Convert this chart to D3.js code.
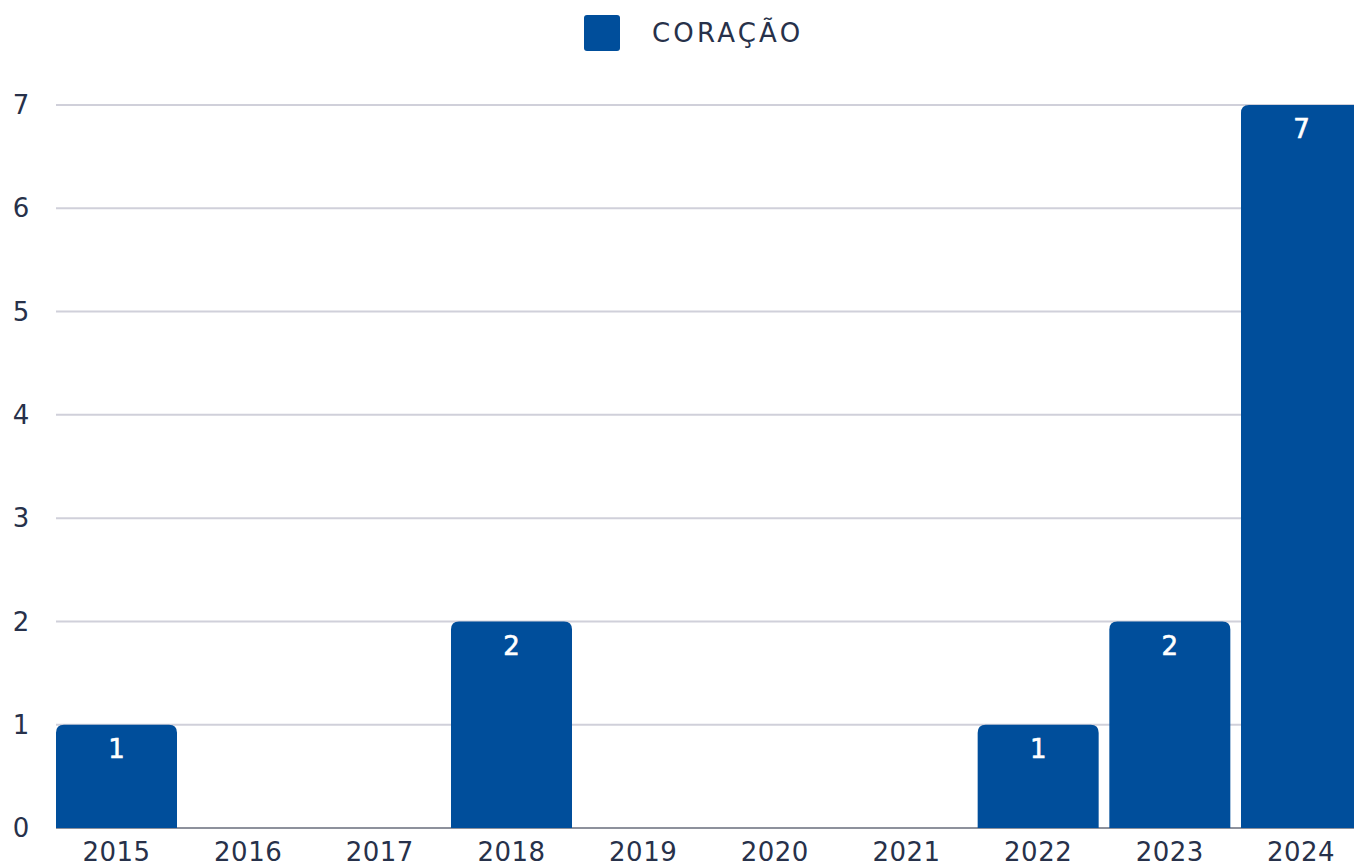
<!DOCTYPE html>
<html>
<head>
<meta charset="utf-8">
<script src="https://cdn.jsdelivr.net/npm/d3@7"></script>
<style>
  body { margin: 0; background: #fff; overflow: hidden; }
  text { font-family: "DejaVu Sans", "Noto Sans", sans-serif; fill: #27314a; }
</style>
</head>
<body>
<svg id="chart" width="1354" height="868"></svg>
<script>
var years = ["2015", "2016", "2017", "2018", "2019", "2020", "2021", "2022", "2023", "2024"];
var values = [1, 0, 0, 2, 0, 0, 0, 1, 2, 7];
var yTicks = [0, 1, 2, 3, 4, 5, 6, 7];
var seriesName = "CORAÇÃO";
var barColor = "#004e9b";

const svg = d3.select("#chart");

const x = d3.scaleBand()
  .domain(years)
  .range([56, 1362])
  .paddingInner(0.081)
  .paddingOuter(0);

const y = d3.scaleLinear()
  .domain([0, 7])
  .range([828, 105]);

// grid lines
svg.append("g")
  .selectAll("line")
  .data(yTicks)
  .enter()
  .append("line")
  .attr("x1", 56)
  .attr("x2", 1354)
  .attr("y1", d => y(d))
  .attr("y2", d => y(d))
  .attr("stroke", d => d == 0 ? "#8d919c" : "#d0d0da")
  .attr("stroke-width", 2);

// y labels
svg.append("g")
  .selectAll("text")
  .data(yTicks)
  .enter()
  .append("text")
  .attr("x", 21)
  .attr("y", d => y(d))
  .attr("dy", "0.35em")
  .attr("text-anchor", "middle")
  .attr("font-size", 26)
  .text(d => d);

// bars with rounded top corners
function barPath(x0, y0, w, h, r) {
  if (h <= 0) return "";
  r = Math.min(r, h, w / 2);
  return "M" + x0 + "," + (y0 + h) +
    "V" + (y0 + r) +
    "Q" + x0 + "," + y0 + " " + (x0 + r) + "," + y0 +
    "H" + (x0 + w - r) +
    "Q" + (x0 + w) + "," + y0 + " " + (x0 + w) + "," + (y0 + r) +
    "V" + (y0 + h) + "Z";
}

const bars = years.map((yr, i) => ({ year: yr, value: values[i] })).filter(d => d.value > 0);

svg.append("g")
  .selectAll("path")
  .data(bars)
  .enter()
  .append("path")
  .attr("d", d => barPath(x(d.year), y(d.value), x.bandwidth(), y(0) - y(d.value), 8))
  .attr("fill", barColor);

svg.append("g")
  .selectAll("text")
  .data(bars)
  .enter()
  .append("text")
  .attr("x", d => Math.min(x(d.year) + x.bandwidth() / 2, 1302))
  .attr("y", d => y(d.value) + 24)
  .attr("dy", "0.35em")
  .attr("text-anchor", "middle")
  .attr("font-size", 26)
  .style("fill", "#fff")
  .style("stroke", "#fff")
  .style("stroke-width", 0.6)
  .text(d => d.value);

// x labels
svg.append("g")
  .selectAll("text")
  .data(years)
  .enter()
  .append("text")
  .attr("x", d => Math.min(x(d) + x.bandwidth() / 2, 1301))
  .attr("y", 852)
  .attr("dy", "0.35em")
  .attr("text-anchor", "middle")
  .attr("font-size", 26)
  .attr("letter-spacing", 0.5)
  .text(d => d);

// legend
const legend = svg.append("g");
legend.append("rect")
  .attr("x", 584)
  .attr("y", 15)
  .attr("width", 36)
  .attr("height", 36)
  .attr("rx", 3)
  .attr("fill", barColor);
legend.append("text")
  .attr("x", 652)
  .attr("y", 33)
  .attr("dy", "0.35em")
  .attr("font-size", 26)
  .attr("letter-spacing", 3.2)
  .text(seriesName);
</script>
</body>
</html>
